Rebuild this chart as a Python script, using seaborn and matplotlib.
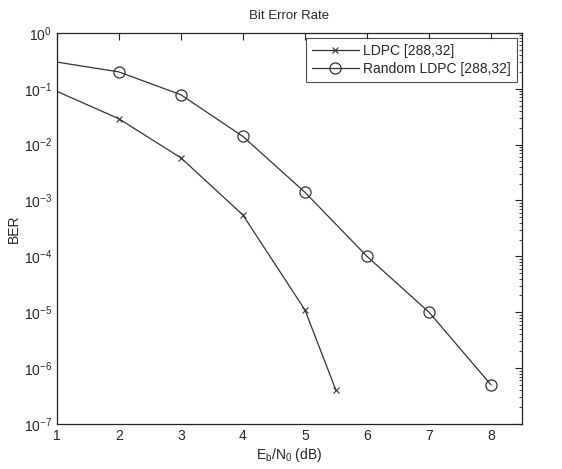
import numpy as np
import pandas as pd
import matplotlib
matplotlib.use("Agg")
import matplotlib.pyplot as plt
import seaborn as sns

# values
ebno_ldpc = [1, 2, 3, 4, 5, 5.5]
ber_ldpc = [0.09, 0.029, 0.0058, 0.00055, 1.1e-5, 4e-7]

ebno_rand = [1, 2, 3, 4, 5, 6, 7, 8]
ber_rand = [0.3, 0.2, 0.078, 0.014, 0.0014, 1.0e-4, 1.0e-5, 5e-7]

sns.set_style("white")
plt.rcParams["font.family"] = ["Liberation Sans", "DejaVu Sans"]
plt.rcParams["mathtext.default"] = "regular"
plt.rcParams["axes.unicode_minus"] = False

fig = plt.figure(figsize=(5.62, 4.69), dpi=100)
ax = fig.add_axes([0.101, 0.096, 0.828, 0.834])

df_l = pd.DataFrame({"x": ebno_ldpc, "y": ber_ldpc})
df_r = pd.DataFrame({"x": ebno_rand, "y": ber_rand})

sns.lineplot(data=df_l, x="x", y="y", ax=ax, color="#333333", lw=0.9,
             marker="x", markersize=5, mec="#333333", mew=0.8,
             markevery=slice(1, None), label="LDPC [288,32]")
sns.lineplot(data=df_r, x="x", y="y", ax=ax, color="#333333", lw=0.9,
             marker="o", markersize=8, mfc="none", mec="#333333", mew=0.9,
             markevery=slice(1, None), label="Random LDPC [288,32]")

ax.set_yscale("log")
ax.set_xlim(1, 8.5)
ax.set_ylim(1e-7, 1)
ax.set_xticks([1, 2, 3, 4, 5, 6, 7, 8])
ax.set_yticks([10.0 ** k for k in range(-7, 1)])
ax.yaxis.set_minor_locator(matplotlib.ticker.LogLocator(base=10, subs=np.arange(2, 10), numticks=20))
ax.yaxis.set_minor_formatter(matplotlib.ticker.NullFormatter())

ax.tick_params(which="both", direction="in", top=True, right=True, labelsize=10, color="#222222")
ax.tick_params(which="major", length=5, width=0.8)
ax.tick_params(which="minor", length=2.5, width=0.6)
for s in ax.spines.values():
    s.set_color("#222222")
    s.set_linewidth(0.9)

ax.set_title("Bit Error Rate", fontsize=9.5, pad=10)
ax.set_xlabel(r"E$_b$/N$_0$ (dB)", fontsize=10, labelpad=2)
ax.set_ylabel("BER", fontsize=10, labelpad=2)

leg = ax.legend(loc="upper right", fontsize=10, frameon=True, fancybox=False,
                edgecolor="#222222", borderaxespad=0.4, handlelength=3.4,
                labelspacing=0.3, borderpad=0.4, handletextpad=0.3)
leg.get_frame().set_linewidth(0.8)

fig.savefig("out.png", dpi=100)
